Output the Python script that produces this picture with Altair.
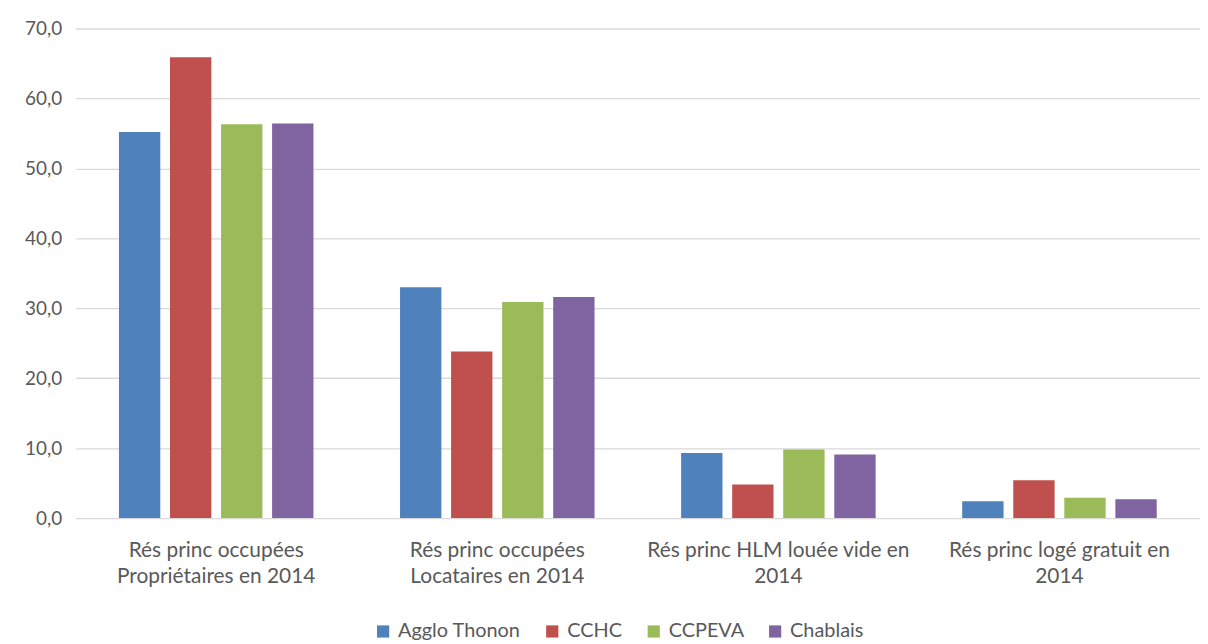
import altair as alt
import pandas as pd

categories = [
    "Rés princ occupées|Propriétaires en 2014",
    "Rés princ occupées|Locataires en 2014",
    "Rés princ HLM louée vide en|2014",
    "Rés princ logé gratuit en|2014",
]
series = ["Agglo Thonon", "CCHC", "CCPEVA", "Chablais"]
agglo_thonon = [55.2, 33.0, 9.3, 2.4]
cchc = [65.9, 23.8, 4.8, 5.4]
ccpeva = [56.3, 30.9, 9.8, 2.9]
chablais = [56.4, 31.6, 9.1, 2.7]
colors = ["#4F81BD", "#C0504D", "#9BBB59", "#8064A2"]

rows = []
for s, vals in zip(series, [agglo_thonon, cchc, ccpeva, chablais]):
    for c, v in zip(categories, vals):
        rows.append({"cat": c, "serie": s, "val": v})
df = pd.DataFrame(rows)

FONT = "Lato"
TXT = "#595959"

chart = alt.Chart(df).mark_bar().encode(
    x=alt.X("cat:N", sort=categories, title=None,
            scale=alt.Scale(paddingInner=0.308, paddingOuter=0.154),
            axis=alt.Axis(labelAngle=0, labelExpr="split(datum.label, '|')",
                          labelFontSize=21, labelColor=TXT, labelFont=FONT,
                          labelPadding=22, labelLineHeight=26, ticks=False,
                          labelLimit=400,
                          domainColor="#D9D9D9", domainWidth=1, labelBaseline="top")),
    xOffset=alt.XOffset("serie:N", sort=series,
                        scale=alt.Scale(paddingInner=0.19, paddingOuter=0)),
    y=alt.Y("val:Q", title=None,
            scale=alt.Scale(domain=[0, 70]),
            axis=alt.Axis(values=[0, 10, 20, 30, 40, 50, 60, 70],
                          labelExpr="replace(format(datum.value, '.1f'), '.', ',')",
                          labelFontSize=19, labelColor=TXT, labelFont=FONT,
                          labelPadding=14, ticks=False, domain=False,
                          gridColor="#D9D9D9", gridWidth=1.3)),
    color=alt.Color("serie:N", sort=series,
                    scale=alt.Scale(domain=series, range=colors),
                    legend=alt.Legend(title=None, orient="none", direction="horizontal",
                                      legendX=299, legendY=596,
                                      symbolType="square", symbolSize=150,
                                      symbolStrokeWidth=0,
                                      labelFontSize=20, labelColor=TXT, labelFont=FONT,
                                      columnPadding=21, labelOffset=5)),
).properties(
    width=1130, height=492,
    padding={"left": 16, "top": 10, "right": 0, "bottom": 5},
).configure_view(stroke=None)

chart.save("out.html", embed_options={"renderer": "svg", "actions": False})
